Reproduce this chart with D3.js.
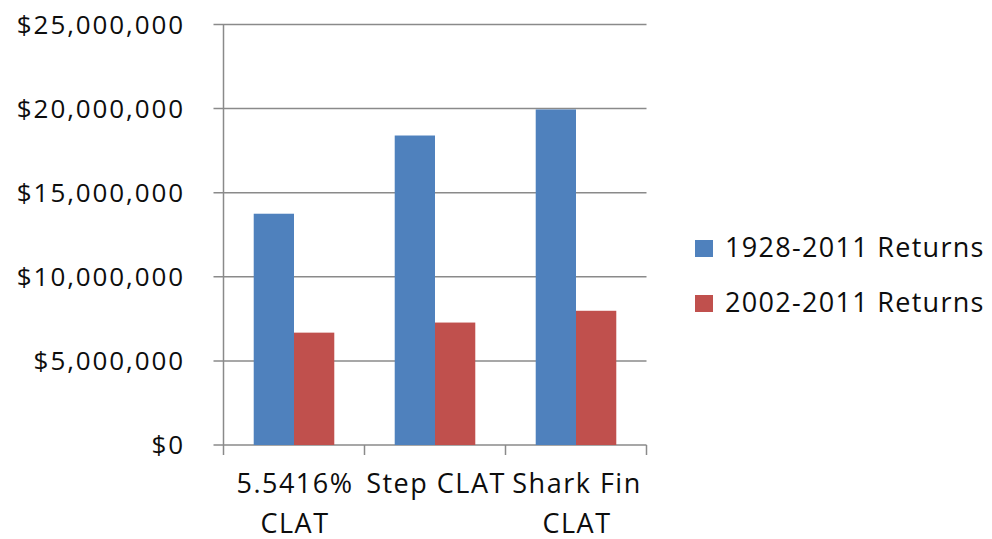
<!DOCTYPE html>
<html>
<head>
<meta charset="utf-8">
<script src="https://cdn.jsdelivr.net/npm/d3@7"></script>
<style>
  html, body { margin: 0; padding: 0; background: #fff; }
  svg { display: block; }
  text { font-family: "Open Sans", sans-serif; fill: #0d0d0d; font-weight: 500; }
</style>
</head>
<body>
<svg id="chart" width="992" height="539"></svg>
<script>
// Chart data
const categories = ["5.5416% CLAT", "Step CLAT", "Shark Fin CLAT"];
const categoryLines = [["5.5416%", "CLAT"], ["Step CLAT"], ["Shark Fin", "CLAT"]];
const seriesNames = ["1928-2011 Returns", "2002-2011 Returns"];
const returns1928 = [13750000, 18400000, 19950000];
const returns2002 = [6680000, 7280000, 7980000];
const yTicks = [0, 5000000, 10000000, 15000000, 20000000, 25000000];

const colors = ["#4F81BD", "#C0504D"];
const seriesValues = [returns1928, returns2002];

const svg = d3.select("#chart");
const plot = { left: 223.5, right: 646.5, top: 24.5, bottom: 445 };

const x = d3.scaleBand().domain(categories).range([plot.left, plot.right]).paddingInner(0).paddingOuter(0);
const xs = d3.scaleBand().domain(seriesNames).range([0, x.bandwidth()]).paddingInner(0).paddingOuter(0.75);
const y = d3.scaleLinear().domain([0, 25000000]).range([plot.bottom, plot.top]);

const gridColor = "#8a8a8a";
const fmt = v => "$" + d3.format(",")(v);

// Horizontal gridlines with tick stubs left of the axis
svg.append("g").selectAll("line").data(yTicks).join("line")
  .attr("x1", plot.left - 10).attr("x2", plot.right)
  .attr("y1", d => y(d)).attr("y2", d => y(d))
  .attr("stroke", gridColor).attr("stroke-width", 1.5);

// Value-axis labels
svg.append("g").selectAll("text").data(yTicks).join("text")
  .attr("x", 185).attr("y", d => y(d)).attr("dy", "0.36em")
  .attr("text-anchor", "end")
  .style("font-size", "26px").style("letter-spacing", "1.9px")
  .text(fmt);

// Bars
const groups = svg.append("g").selectAll("g").data(seriesNames).join("g")
  .attr("fill", (d, i) => colors[i]);
groups.selectAll("rect").data((s, si) => categories.map((c, ci) => ({ c, s, v: seriesValues[si][ci] })))
  .join("rect")
  .attr("x", d => x(d.c) + xs(d.s))
  .attr("width", xs.bandwidth())
  .attr("y", d => y(d.v))
  .attr("height", d => y(0) - y(d.v));

// Vertical axis line
svg.append("line")
  .attr("x1", plot.left).attr("x2", plot.left)
  .attr("y1", plot.top).attr("y2", plot.bottom + 10)
  .attr("stroke", gridColor).attr("stroke-width", 1.5);

// Category tick marks at band boundaries
const bounds = categories.map(c => x(c)).concat([plot.right]);
svg.append("g").selectAll("line").data(bounds.slice(1)).join("line")
  .attr("x1", d => d).attr("x2", d => d)
  .attr("y1", plot.bottom).attr("y2", plot.bottom + 10)
  .attr("stroke", gridColor).attr("stroke-width", 1.5);

// Category labels (wrapped)
const catLabels = svg.append("g").selectAll("text").data(categories).join("text")
  .attr("text-anchor", "middle")
  .style("font-size", "27px").style("letter-spacing", "1.5px");
catLabels.each(function (c, i) {
  const t = d3.select(this);
  categoryLines[i].forEach((line, li) => {
    t.append("tspan")
      .attr("x", x(c) + x.bandwidth() / 2 + 1)
      .attr("y", 493 + li * 39.5)
      .text(line);
  });
});

// Legend
const legend = svg.append("g").selectAll("g").data(seriesNames).join("g")
  .attr("transform", (d, i) => `translate(695, ${240 + i * 55})`);
legend.append("rect").attr("width", 18).attr("height", 17).attr("fill", (d, i) => colors[i]);
legend.append("text").attr("x", 30).attr("y", 17)
  .style("font-size", "27px").style("letter-spacing", "1.3px")
  .text(d => d);
</script>
</body>
</html>
